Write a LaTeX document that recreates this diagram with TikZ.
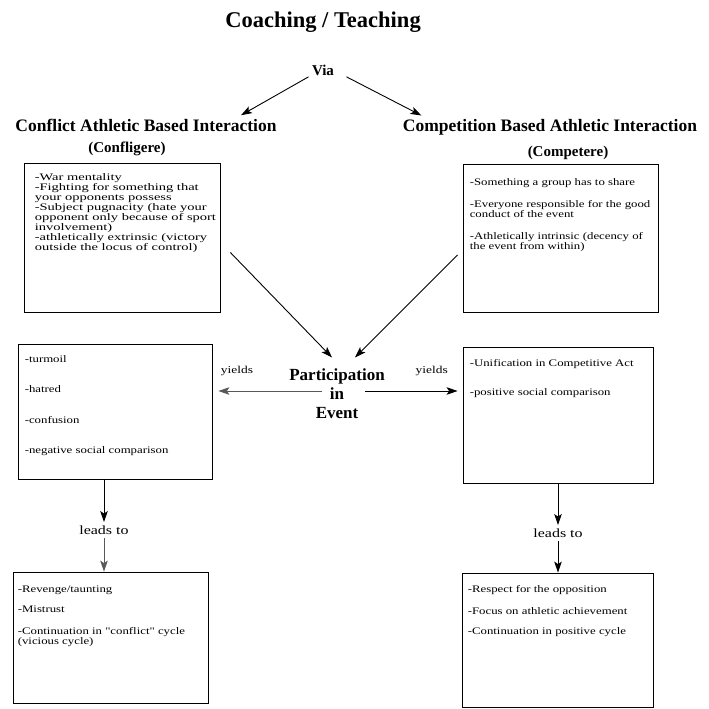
\documentclass[tikz,border=0pt]{standalone}
\usepackage{fontspec}
\setmainfont{Liberation Serif}
\newfontfamily\scanfont[FakeStretch=1.28]{Liberation Serif}
\newfontfamily\widefont[FakeStretch=1.45]{Liberation Serif}
\usetikzlibrary{arrows.meta,positioning}
\tikzstyle{box} = [rectangle, draw, line width=0.8pt]
\tikzstyle{boxtext} = [anchor=north west, inner sep=0pt, align=left, font=\scanfont\fontsize{10}{10}\selectfont]
\tikzstyle{head} = [font=\fontsize{17.5}{19}\selectfont\bfseries]
\tikzstyle{sub} = [font=\fontsize{15}{17}\selectfont\bfseries]
\tikzstyle{small} = [font=\scanfont\fontsize{10.5}{11}\selectfont]
\tikzstyle{leads} = [font=\scanfont\fontsize{12.5}{14}\selectfont]
\tikzstyle{link} = [-{Stealth[length=11pt,width=7.5pt,inset=2.5pt]}, line width=0.9pt]

\begin{document}
\begin{tikzpicture}[x=1pt,y=-1pt]
    \path[use as bounding box] (0,0) rectangle (709,709);
    \node [font=\fontsize{22.5}{24}\selectfont\bfseries] (title) at (323,22) {Coaching / Teaching};
    \node [sub] (via) at (323,70) {Via};
    \node [head] (conflict) at (146,125) {Conflict Athletic Based Interaction};
    \node [sub] (confligere) at (127,149) {(Confligere)};
    \node [head] (competition) at (550,127) {Competition Based Athletic Interaction};
    \node [sub] (competere) at (568,153) {(Competere)};

    % boxes
    \node [box, minimum width=196pt, minimum height=149pt] (box1) at (122,237.5) {};
    \node [box, minimum width=195pt, minimum height=148pt] (box2) at (560.5,238) {};
    \node [box, minimum width=194pt, minimum height=135pt] (box3) at (115,411.5) {};
    \node [box, minimum width=190pt, minimum height=136pt] (box4) at (558,415) {};
    \node [box, minimum width=195pt, minimum height=131pt] (box5) at (110.5,637.5) {};
    \node [box, minimum width=191pt, minimum height=134pt] (box6) at (557.5,640) {};

    \node [boxtext, font=\widefont\fontsize{10}{10}\selectfont] (text1) at ([xshift=11pt,yshift=-11pt]box1.north west) {-War mentality\\
        -Fighting for something that\\
        your opponents possess\\
        -Subject pugnacity (hate your\\
        opponent only because of sport\\
        involvement)\\
        -athletically extrinsic (victory\\
        outside the locus of control)};
    \node [boxtext] (text2) at ([xshift=7pt,yshift=-15pt]box2.north west) {-Something a group has to share\\[12pt]
        -Everyone responsible for the good\\
        conduct of the event\\[12pt]
        -Athletically intrinsic (decency of\\
        the event from within)};
    \node [boxtext] (text3) at ([xshift=7pt,yshift=-12pt]box3.north west) {-turmoil\\[20pt]
        -hatred\\[21pt]
        -confusion\\[20pt]
        -negative social comparison};
    \node [boxtext] (text4) at ([xshift=7pt,yshift=-13pt]box4.north west) {-Unification in Competitive Act\\[19pt]
        -positive social comparison};
    \node [boxtext] (text5) at ([xshift=5pt,yshift=-14pt]box5.north west) {-Revenge/taunting\\[10pt]
        -Mistrust\\[12pt]
        -Continuation in "conflict" cycle\\
        (vicious cycle)};
    \node [boxtext] (text6) at ([xshift=6pt,yshift=-13pt]box6.north west) {-Respect for the opposition\\[12pt]
        -Focus on athletic achievement\\[10pt]
        -Continuation in positive cycle};

    \node [font=\fontsize{17}{19}\selectfont\bfseries, align=center] (part) at (337,394) {Participation\\in\\Event};
    \coordinate (yl) at ([xshift=-15pt,yshift=3pt]part.center);
    \coordinate (yr) at ([xshift=28pt,yshift=3pt]part.center);
    \node [leads] (leads1) at (104,530) {leads to};
    \node [leads] (leads2) at (558,533) {leads to};

    \draw[link] ([yshift=2pt]via.south west) -- ([xshift=-39pt]conflict.north east);
    \draw[link] ([xshift=9pt,yshift=2pt]via.south east) -- ([xshift=22pt]competition.north west);
    \draw[link] ([xshift=10pt,yshift=-15pt]box1.east) -- ([xshift=-5pt,yshift=8pt]part.north);
    \draw[link] ([xshift=-5pt,yshift=-17pt]box2.west) -- ([xshift=18pt,yshift=8pt]part.north);
    \draw[link, gray!70!black] (yl) -- ([xshift=6pt]box3.east |- yl) node[small, black, pos=0.82, above=11pt] (yieldsl) {yields};
    \draw[link] (yr) -- ([xshift=-5pt]box4.west |- yr) node[small, pos=0.72, above=11pt] (yieldsr) {yields};
    \draw[link] (box3.south -| leads1) -- (leads1);
    \draw[link, gray!70!black] (leads1) -- (leads1 |- box5.north);
    \draw[link] (box4.south -| leads2) -- (leads2);
    \draw[link] (leads2) -- (leads2 |- box6.north);
\end{tikzpicture}
\end{document}
